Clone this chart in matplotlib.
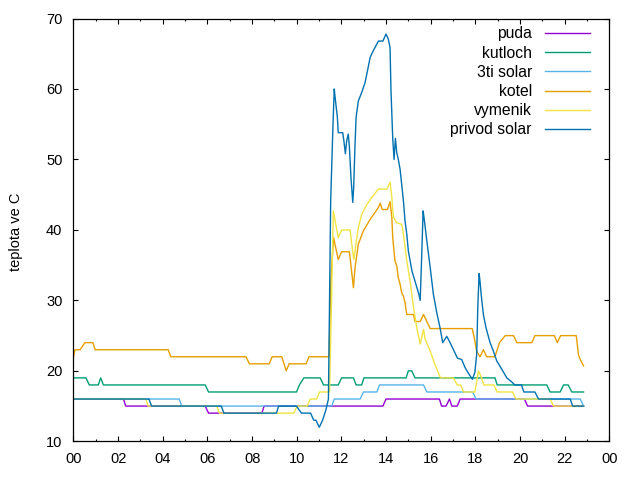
import matplotlib
matplotlib.use("Agg")
import matplotlib.pyplot as plt
from matplotlib.ticker import MultipleLocator

plt.rcParams['font.family'] = ['Liberation Sans', 'DejaVu Sans']

# cas v hodinach, teplota ve C
puda_t = [0, 2.24, 2.34, 5.9, 6.05, 8.44, 8.54, 13.86, 14.0, 16.39, 16.49, 16.69, 16.84,
          16.95, 17.19, 17.32, 20.2, 20.34, 22.85]
puda_v = [16, 16, 15, 15, 14, 14, 15, 15, 16, 16, 15, 15, 16, 15, 15, 16, 16, 15, 15]

kutloch_t = [0, 0.56, 0.71, 1.11, 1.22, 1.34, 5.9, 6.05, 9.99, 10.12, 10.32, 11.05, 11.2,
             11.86, 12.01, 12.54, 12.66, 12.91, 13.01, 14.9, 15.0, 15.15, 15.3, 18.88,
             18.98, 21.2, 21.35, 21.8, 21.95, 22.16, 22.32, 22.85]
kutloch_v = [19, 19, 18, 18, 19, 18, 18, 17, 17, 18, 19, 19, 18, 18, 19, 19, 18, 18, 19,
             19, 20, 20, 19, 19, 18, 18, 17, 17, 18, 18, 17, 17]

solar3_t = [0, 4.74, 4.85, 11.57, 11.68, 12.84, 12.99, 13.59, 13.71, 15.68, 15.83, 17.88,
            18.03, 22.7, 22.85]
solar3_v = [16, 16, 15, 15, 16, 16, 17, 17, 18, 18, 17, 17, 16, 16, 15]

kotel_t = [0, 0.07, 0.3, 0.51, 0.87, 0.97, 4.24, 4.36, 7.73, 7.88, 8.77, 8.9, 9.33, 9.53,
           9.66, 10.42, 10.55, 11.45, 11.53, 11.65, 11.86, 12.01, 12.36, 12.54, 12.61,
           12.76, 12.99, 13.29, 13.51, 13.66, 13.74, 13.83, 14.06, 14.18, 14.26, 14.3,
           14.4, 14.48, 14.55, 14.63, 14.7, 14.78, 14.85, 14.93, 15.23, 15.3, 15.53, 15.68,
           15.83, 15.98, 17.86, 17.95, 18.06, 18.21, 18.36, 18.51, 18.88, 18.98, 19.08,
           19.34, 19.71, 19.86, 20.53, 20.67, 21.54, 21.67, 21.82, 22.52, 22.62, 22.7, 22.85]
kotel_v = [22, 23, 23, 24, 24, 23, 23, 22, 22, 21, 21, 22, 22, 20, 21, 21, 22, 22, 33,
           38.9, 35.8, 36.9, 36.9, 31.8, 34.6, 38, 39.9, 41.5, 42.5, 43.2, 43.8, 42.9, 42.9,
           44, 41.8, 38.9, 35.6, 34.9, 33.2, 32.3, 31.1, 30.6, 29.7, 28, 28, 27, 27, 28, 27,
           26, 26, 24.7, 22.8, 22, 23, 22, 22, 23, 24, 25, 25, 24, 24, 25, 25, 24, 25, 25,
           22.3, 21.6, 20.7]

vymenik_t = [0, 3.25, 3.34, 6.42, 6.54, 9.87, 10.02, 10.47, 10.6, 10.89, 11.02, 11.47,
             11.54, 11.64, 11.86, 12.01, 12.39, 12.51, 12.56, 12.63, 12.76, 12.91, 13.14,
             13.36, 13.66, 14.04, 14.18, 14.26, 14.33, 14.48, 14.7, 14.78, 14.93, 15.08,
             15.23, 15.38, 15.53, 15.68, 15.75, 15.98, 16.19, 16.44, 17.02, 17.19, 17.34,
             17.47, 17.98, 18.14, 18.28, 18.38, 18.83, 18.98, 19.67, 19.82, 21.35, 21.5, 22.85]
vymenik_v = [16, 16, 15, 15, 14, 14, 15, 15, 16, 16, 17, 17, 27, 42.7, 38.9, 40, 40, 36.8,
             35.8, 37.5, 40.3, 42.2, 43.6, 44.6, 45.8, 45.8, 46.8, 44.6, 41.8, 41, 40.8,
             39.4, 35.6, 32.7, 29, 26.1, 23.8, 25.9, 24.5, 22.8, 20.9, 19, 19, 18, 18, 17,
             17, 20, 19, 18, 18, 17, 17, 16, 16, 15, 15]

privod_t = [0, 3.38, 3.5, 6.62, 6.74, 9.09, 9.19, 9.99, 10.21, 10.62, 10.76, 10.86, 11.01,
            11.16, 11.31, 11.42, 11.52, 11.62, 11.68, 11.72, 11.77, 11.82, 11.86, 12.06,
            12.11, 12.18, 12.24, 12.31, 12.36, 12.43, 12.51, 12.55, 12.61, 12.66, 12.76,
            12.91, 13.06, 13.17, 13.29, 13.44, 13.66, 13.86, 14.0, 14.1, 14.18, 14.22, 14.3,
            14.36, 14.42, 14.48, 14.55, 14.63, 14.7, 14.78, 14.85, 14.93, 15.0, 15.16, 15.3,
            15.46, 15.53, 15.6, 15.66, 15.7, 15.83, 15.98, 16.12, 16.27, 16.42, 16.54, 16.72,
            16.87, 17.05, 17.2, 17.39, 17.55, 17.7, 17.87, 17.98, 18.06, 18.11, 18.17, 18.21,
            18.26, 18.36, 18.48, 18.66, 18.81, 18.96, 19.19, 19.41, 19.64, 19.77, 20.07,
            20.17, 20.67, 20.83, 22.25, 22.36, 22.85]
privod_v = [16, 16, 15, 15, 14, 14, 15, 15, 14, 14, 13, 13, 12, 13, 14.5, 16, 44, 54.5, 60,
            58.8, 57.4, 56, 53.8, 53.8, 52.7, 50.8, 52.7, 53.6, 51.7, 47.4, 43.9, 46, 52, 56,
            58.3, 59.5, 60.9, 62.6, 64.5, 65.5, 66.8, 66.8, 67.8, 67.1, 65.9, 60, 53, 50, 53,
            51, 50, 48.6, 46.5, 44.1, 41.3, 39.4, 37, 34.2, 32.7, 31, 30, 36.5, 42.7, 41.8,
            38.4, 34.6, 30.9, 28.3, 26.1, 24, 24.9, 24, 22.8, 21.8, 21.6, 20.4, 19.6, 18.8,
            19.8, 22.3, 29, 33.8, 32.7, 30.9, 28, 26.1, 24, 22.8, 21.4, 20.2, 19, 18.4, 18,
            18, 17, 17, 16, 16, 15, 15]

hodiny = list(range(0, 25, 2))
hodiny_txt = ['00', '02', '04', '06', '08', '10', '12', '14', '16', '18', '20', '22', '00']

fig = plt.figure(figsize=(6.4, 4.8), dpi=100)
ax = fig.add_axes([0.1148, 0.0806, 0.8372, 0.8808])

ax.plot(puda_t, puda_v, color='#9400d3', lw=1, label='puda')
ax.plot(kutloch_t, kutloch_v, color='#009e73', lw=1, label='kutloch')
ax.plot(solar3_t, solar3_v, color='#56b4e9', lw=1, label='3ti solar')
ax.plot(kotel_t, kotel_v, color='#e69f00', lw=1, label='kotel')
ax.plot(vymenik_t, vymenik_v, color='#f0e442', lw=1, label='vymenik')
ax.plot(privod_t, privod_v, color='#0072b2', lw=1, label='privod solar')

ax.set_xlim(0, 24)
ax.set_ylim(10, 70)
ax.set_xticks(hodiny)
ax.set_xticklabels(hodiny_txt)
ax.xaxis.set_minor_locator(MultipleLocator(1))
ax.set_yticks(range(10, 71, 10))
ax.tick_params(which='both', direction='in', top=True, right=True, labelsize=10.5)
ax.tick_params(which='major', length=3.3, width=0.8)
ax.tick_params(which='minor', length=1.7, width=0.8)
ax.tick_params(axis='y', pad=8)
ax.tick_params(axis='x', pad=8)
for s in ax.spines.values():
    s.set_linewidth(0.9)

fig.text(0.025, 0.518, 'teplota ve C', rotation=90, ha='center', va='center', fontsize=10.5)

ax.legend(loc='upper right', bbox_to_anchor=(590 / 640, 1 - 26.3 / 480),
          bbox_transform=fig.transFigure, frameon=False, markerfirst=False,
          fontsize=11.3, handlelength=2.87, handletextpad=0.83, borderpad=0,
          borderaxespad=0, labelspacing=0.27)

fig.savefig('out.png', dpi=100)
